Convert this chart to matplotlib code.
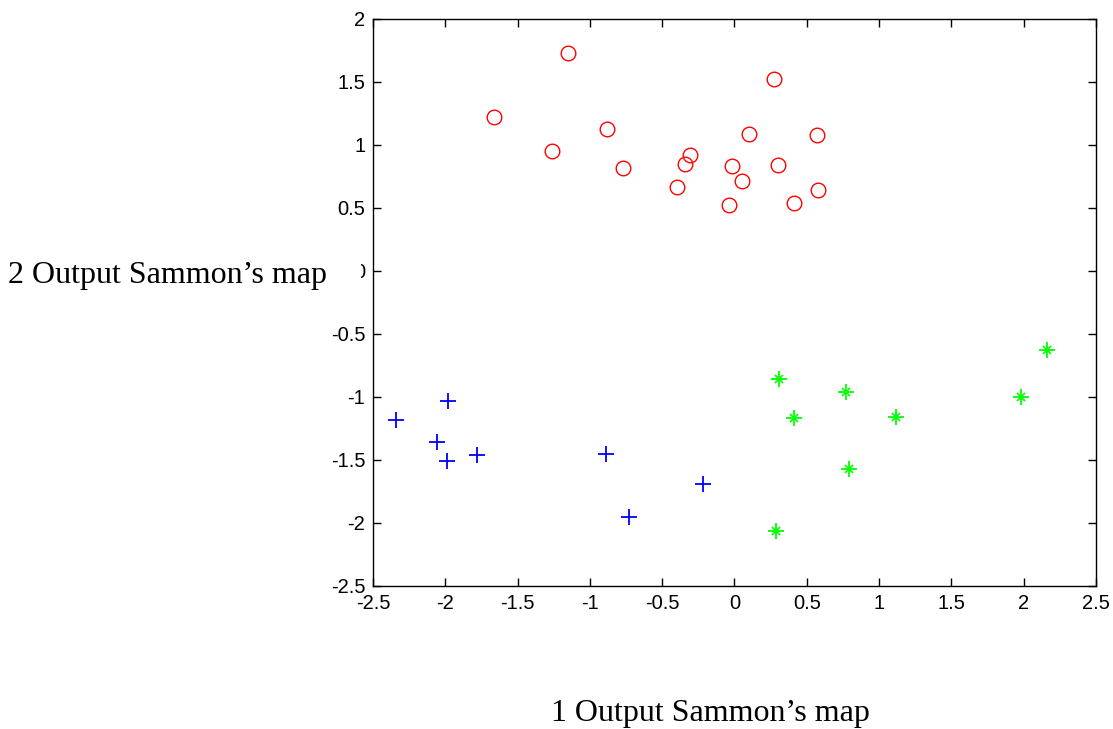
import matplotlib
matplotlib.use("Agg")
from matplotlib import pyplot as plt
from matplotlib.patches import Rectangle

# 红色圆圈
red_x = [-1.15, 0.27, -1.66, -0.88, -1.26, -0.77, 0.10, 0.57, -0.31, -0.34,
         -0.40, -0.02, 0.05, 0.30, -0.04, 0.41, 0.58]
red_y = [1.73, 1.52, 1.22, 1.13, 0.95, 0.82, 1.09, 1.08, 0.92, 0.85,
         0.67, 0.83, 0.71, 0.84, 0.52, 0.54, 0.64]

# 蓝色加号
blue_x = [-1.98, -2.34, -2.06, -1.99, -1.78, -0.89, -0.22, -0.73]
blue_y = [-1.03, -1.18, -1.36, -1.51, -1.46, -1.45, -1.69, -1.95]

# 绿色星号
green_x = [0.31, 2.16, 0.77, 0.41, 1.12, 1.98, 0.79, 0.29]
green_y = [-0.86, -0.63, -0.96, -1.17, -1.16, -1.00, -1.57, -2.06]

ticks_x = [-2.5, -2, -1.5, -1, -0.5, 0, 0.5, 1, 1.5, 2, 2.5]
ticks_y = [-2.5, -2, -1.5, -1, -0.5, 0, 0.5, 1, 1.5, 2]

fig = plt.figure(figsize=(11.13, 7.29), dpi=100)
ax = fig.add_axes([0.3351, 0.1962, 0.6496, 0.7778])

ax.plot(red_x, red_y, linestyle="none", marker="o", markersize=10.5,
        markerfacecolor="none", markeredgecolor="#ff0000", markeredgewidth=1.0)
ax.plot(blue_x, blue_y, linestyle="none", marker="+", markersize=11,
        color="#0000ff", markeredgewidth=1.3)
ax.plot(green_x, green_y, linestyle="none", marker="+", markersize=11,
        color="#00ff00", markeredgewidth=1.3)
ax.plot(green_x, green_y, linestyle="none", marker="x", markersize=6,
        color="#00ff00", markeredgewidth=1.2)

ax.set_xlim(-2.5, 2.5)
ax.set_ylim(-2.5, 2)
ax.set_xticks(ticks_x)
ax.set_xticklabels(["{:g}".format(t) for t in ticks_x])
ax.set_yticks(ticks_y)
ax.set_yticklabels(["{:g}".format(t) for t in ticks_y])
ax.tick_params(direction="in", top=True, right=True, length=6, width=1,
               labelsize=14.5, pad=5.5)
for lab in ax.get_xticklabels() + ax.get_yticklabels():
    lab.set_family("Liberation Sans")
for sp in ax.spines.values():
    sp.set_linewidth(1.0)

# 轴标签 (原图是横着写在左边的, 盖住了0的一半)
fig.patches.append(Rectangle((0, 0.58), 361 / 1113, 0.08, transform=fig.transFigure,
                             facecolor="white", edgecolor="none", zorder=5))
fig.text(8 / 1113, 1 - 275 / 729, "2 Output Sammon\u2019s map", family="Liberation Serif",
         fontsize=23, ha="left", va="center", zorder=6)
fig.text(710 / 1113, 1 - 713 / 729, "1 Output Sammon\u2019s map", family="Liberation Serif",
         fontsize=23, ha="center", va="center")

plt.savefig("out.png", dpi=100)
